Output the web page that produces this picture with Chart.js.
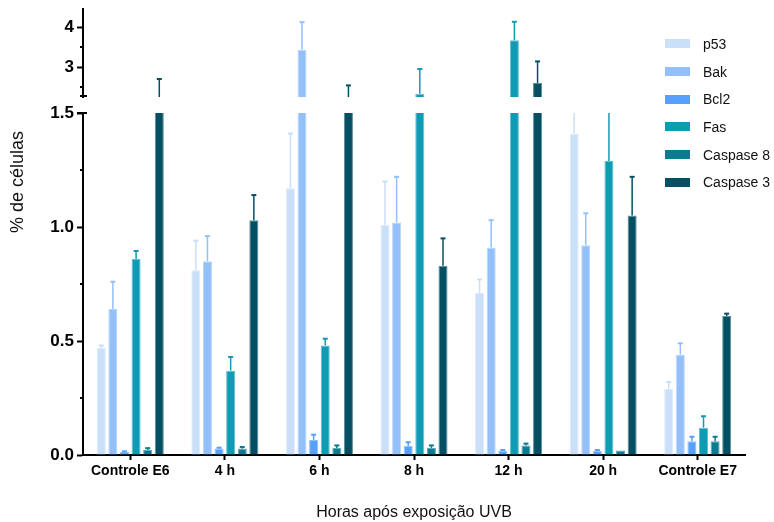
<!DOCTYPE html>
<html>
<head>
<meta charset="utf-8">
<script src="https://cdn.jsdelivr.net/npm/chart.js@4/dist/chart.umd.min.js"></script>
<style>
  html, body { margin: 0; padding: 0; background: #fff; }
  #wrap { position: relative; width: 774px; height: 522px; }
  #legend { position: absolute; left: 665px; top: 30px; font: 14px "Liberation Sans", Arial, sans-serif; color: #111; }
  #legend .row { display: flex; align-items: center; height: 27.7px; }
  #legend .sw { width: 25px; height: 9px; margin-right: 13px; }
</style>
</head>
<body>
<div id="wrap">
  <canvas id="c" width="774" height="522"></canvas>
  <div id="legend"></div>
</div>
<script>
// Categories (time after UVB exposure) and series
const categories = ['Controle E6', '4 h', '6 h', '8 h', '12 h', '20 h', 'Controle E7'];
const seriesNames = ['p53', 'Bak', 'Bcl2', 'Fas', 'Caspase 8', 'Caspase 3'];
const seriesColors = ['#cadff8', '#94c0f9', '#57a0fb', '#109bb4', '#0a7b90', '#054f62'];

// Means (% de células)
const p53   = [0.47, 0.81, 1.17, 1.01, 0.71, 1.41, 0.29];
const bak   = [0.64, 0.85, 3.43, 1.02, 0.91, 0.92, 0.44];
const bcl2  = [0.013, 0.028, 0.066, 0.039, 0.019, 0.019, 0.06];
const fas   = [0.86, 0.37, 0.48, 2.33, 3.67, 1.29, 0.12];
const casp8 = [0.022, 0.028, 0.031, 0.031, 0.042, 0.02, 0.06];
const casp3 = [2.05, 1.03, 2.0, 0.83, 2.6, 1.05, 0.61];

// Upper error (SEM)
const p53Err   = [0.01, 0.13, 0.24, 0.19, 0.06, 0.30, 0.03];
const bakErr   = [0.12, 0.11, 0.69, 0.20, 0.12, 0.14, 0.05];
const bcl2Err  = [0.003, 0.004, 0.023, 0.017, 0.003, 0.003, 0.02];
const fasErr   = [0.035, 0.06, 0.03, 0.62, 0.46, 0.35, 0.05];
const casp8Err = [0.008, 0.007, 0.011, 0.011, 0.008, 0, 0.02];
const casp3Err = [0.65, 0.11, 0.54, 0.12, 0.54, 0.17, 0.01];

// Broken y axis: lower and upper segments
const lowerTicks = [0, 0.25, 0.5, 0.75, 1, 1.25, 1.5];
const upperTicks = [2.25, 2.5, 3, 3.5, 4];
const lowerLabels = [0, 0.5, 1, 1.5];
const upperLabels = [3, 4];

const seriesValues = [p53, bak, bcl2, fas, casp8, casp3];
const seriesErrors = [p53Err, bakErr, bcl2Err, fasErr, casp8Err, casp3Err];

const FONT = '"Liberation Sans", Arial, sans-serif';

function tint(hex, f) {
  const n = parseInt(hex.slice(1), 16);
  const r = (n >> 16) & 255, g = (n >> 8) & 255, b = n & 255;
  const m = c => Math.round(c + (255 - c) * f);
  return `rgb(${m(r)},${m(g)},${m(b)})`;
}

// Each series is drawn twice: once on each segment of the broken axis
const datasets = [];
['yLower', 'yUpper'].forEach(axisId => {
  seriesNames.forEach((name, i) => {
    datasets.push({
      label: name,
      data: seriesValues[i],
      errors: seriesErrors[i],
      yAxisID: axisId,
      stack: name,
      backgroundColor: seriesColors[i],
      borderColor: tint(seriesColors[i], 0.35),
      borderWidth: 1,
      borderSkipped: 'bottom',
      whiskerColor: seriesColors[i],
      categoryPercentage: 0.736,
      barPercentage: 0.78
    });
  });
});

// Legend
const legendEl = document.getElementById('legend');
seriesNames.forEach((name, i) => {
  const row = document.createElement('div');
  row.className = 'row';
  const sw = document.createElement('span');
  sw.className = 'sw';
  sw.style.background = seriesColors[i];
  const tx = document.createElement('span');
  tx.textContent = name;
  row.appendChild(sw);
  row.appendChild(tx);
  legendEl.appendChild(row);
});

// Clip every dataset to its own axis segment and draw its error whiskers
const segmentClip = {
  id: 'segmentClip',
  beforeDatasetDraw(chart, args) {
    const ys = args.meta.yScale, ca = chart.chartArea, ctx = chart.ctx;
    ctx.save();
    ctx.beginPath();
    ctx.rect(ca.left, ys.top, ca.right - ca.left, ys.bottom - ys.top);
    ctx.clip();
  },
  afterDatasetDraw(chart, args) {
    const ctx = chart.ctx;
    const ds = chart.data.datasets[args.index];
    const ys = args.meta.yScale;
    ctx.strokeStyle = ds.whiskerColor;
    args.meta.data.forEach((el, i) => {
      const err = ds.errors[i];
      if (!err) return;
      const v = ds.data[i];
      const y0 = ys.getPixelForValue(v);
      const y1 = ys.getPixelForValue(v + err);
      ctx.lineWidth = 1.5;
      ctx.beginPath();
      ctx.moveTo(el.x, y0);
      ctx.lineTo(el.x, y1);
      ctx.stroke();
      ctx.lineWidth = 2;
      ctx.beginPath();
      ctx.moveTo(el.x - 2.5, y1);
      ctx.lineTo(el.x + 2.5, y1);
      ctx.stroke();
    });
    ctx.restore();
  }
};

// Minor ticks, break caps and the y axis title
const axisExtras = {
  id: 'axisExtras',
  afterDraw(chart) {
    const ctx = chart.ctx;
    const lo = chart.scales.yLower, up = chart.scales.yUpper;
    const x = chart.chartArea.left;
    ctx.save();
    ctx.strokeStyle = '#000';
    ctx.lineWidth = 2;
    const tick = (y, a, b) => { ctx.beginPath(); ctx.moveTo(x - a, y); ctx.lineTo(x + b, y); ctx.stroke(); };
    lowerTicks.filter(v => !lowerLabels.includes(v)).forEach(v => tick(lo.getPixelForValue(v), 3, 0));
    upperTicks.filter(v => !upperLabels.includes(v) && v !== upperTicks[0]).forEach(v => tick(up.getPixelForValue(v), 3, 0));
    // caps at both sides of the break
    tick(lo.getPixelForValue(lowerTicks[lowerTicks.length - 1]), 6, 4);
    tick(up.getPixelForValue(upperTicks[0]) - 1, 3, 4);
    ctx.fillStyle = '#111';
    ctx.font = '18px ' + FONT;
    ctx.textAlign = 'center';
    ctx.textBaseline = 'middle';
    ctx.translate(18, 182);
    ctx.rotate(-Math.PI / 2);
    ctx.fillText('% de células', 0, 0);
    ctx.restore();
  }
};

function yAxis(weight, min, max, ticks, labels) {
  return {
    type: 'linear',
    position: 'left',
    stack: 'v',
    stackWeight: weight,
    stacked: false,
    min: min,
    max: max,
    afterBuildTicks(s) { s.ticks = ticks.map(v => ({ value: v })); },
    afterFit(s) { s.width = 83; s.paddingTop = 0; s.paddingBottom = 0; },
    grid: {
      drawOnChartArea: false,
      tickLength: 6,
      tickWidth: 2,
      tickColor: c => labels.includes(c.tick.value) ? '#000' : 'rgba(0,0,0,0)'
    },
    border: { display: true, color: '#000', width: 2 },
    ticks: {
      padding: 3,
      color: '#000',
      font: { family: FONT, size: 17, weight: 'bold' },
      callback: v => labels.includes(v) ? (max <= 1.5 ? v.toFixed(1) : String(v)) : ''
    }
  };
}

new Chart(document.getElementById('c'), {
  type: 'bar',
  data: { labels: categories, datasets: datasets },
  plugins: [segmentClip, axisExtras],
  options: {
    responsive: false,
    animation: false,
    layout: { padding: { top: 9, right: 29, left: 0, bottom: 0 } },
    plugins: { legend: { display: false }, tooltip: { enabled: false } },
    scales: {
      x: {
        type: 'category',
        offset: true,
        afterFit(s) { s.height = 67; s.paddingLeft = 0; s.paddingRight = 0; },
        grid: { drawOnChartArea: false, offset: false, tickLength: 5, tickWidth: 2, tickColor: '#000' },
        border: { display: true, color: '#000', width: 2 },
        ticks: { padding: 3, color: '#000', autoSkip: false, maxRotation: 0, font: { family: FONT, size: 14, weight: 'bold' } },
        title: { display: true, text: 'Horas após exposição UVB', color: '#111', font: { family: FONT, size: 16 }, padding: { top: 0, bottom: 0 } }
      },
      yLower: yAxis(342, 0, 1.5, lowerTicks, lowerLabels),
      yGap: {
        type: 'linear', position: 'left', stack: 'v', stackWeight: 16, min: 0, max: 1,
        afterFit(s) { s.width = 83; s.paddingTop = 0; s.paddingBottom = 0; },
        grid: { display: false }, border: { display: false }, ticks: { display: false }
      },
      yUpper: yAxis(88, 2.25, 4.45, upperTicks, upperLabels)
    }
  }
});
</script>
</body>
</html>
